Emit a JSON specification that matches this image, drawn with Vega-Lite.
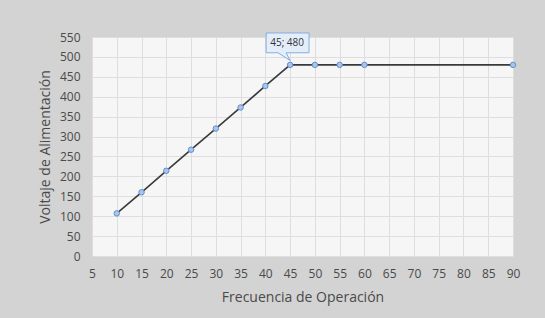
{
  "$schema": "https://vega.github.io/schema/vega-lite/v6.json",
  "width": 421,
  "height": 219,
  "autosize": {"type": "none"},
  "padding": {"left": 92, "top": 37, "right": 32, "bottom": 62},
  "background": "#d3d3d3",
  "config": {
    "view": {"fill": "#f6f6f6", "stroke": null},
    "font": "Open Sans",
    "axis": {
      "labelFont": "Open Sans",
      "titleFont": "Open Sans",
      "labelColor": "#4a4a4a",
      "titleColor": "#4a4a4a",
      "labelFontSize": 12,
      "titleFontSize": 14,
      "titleFontWeight": "normal",
      "gridColor": "#dedede",
      "gridWidth": 1,
      "domain": false,
      "ticks": false
    }
  },
  "data": {
    "values": [
      {"f": 10, "v": 107},
      {"f": 15, "v": 160},
      {"f": 20, "v": 214},
      {"f": 25, "v": 267},
      {"f": 30, "v": 320},
      {"f": 35, "v": 373},
      {"f": 40, "v": 427},
      {"f": 45, "v": 480, "label": "45; 480"},
      {"f": 50, "v": 480},
      {"f": 55, "v": 480},
      {"f": 60, "v": 480},
      {"f": 90, "v": 480}
    ]
  },
  "encoding": {
    "x": {
      "field": "f",
      "type": "quantitative",
      "scale": {"domain": [5, 90], "nice": false, "zero": false},
      "axis": {
        "title": "Frecuencia de Operación",
        "values": [5, 10, 15, 20, 25, 30, 35, 40, 45, 50, 55, 60, 65, 70, 75, 80, 85, 90],
        "labelPadding": 12,
        "titlePadding": 11,
        "labelFlush": false
      }
    },
    "y": {
      "field": "v",
      "type": "quantitative",
      "scale": {"domain": [0, 550], "nice": false},
      "axis": {
        "title": "Voltaje de Alimentación",
        "values": [0, 50, 100, 150, 200, 250, 300, 350, 400, 450, 500, 550],
        "labelPadding": 12,
        "titlePadding": 7,
        "labelFlush": false
      }
    }
  },
  "layer": [
    {
      "mark": {"type": "line", "color": "#3a3a3a", "strokeWidth": 1.6}
    },
    {
      "mark": {"type": "point", "filled": true, "fill": "#a9c5ea", "stroke": "#5f8fd0", "strokeWidth": 1, "size": 30, "opacity": 1}
    },
    {
      "transform": [{"filter": "datum.label != null"}],
      "mark": {
        "type": "point",
        "shape": "M-1.09,-1.45L0.86,-1.45L0.86,-0.55L-0.18,-0.55L0,-0.2L-0.55,-0.55L-1.09,-0.55Z",
        "size": 1936,
        "filled": true,
        "fill": "#e4eefb",
        "stroke": "#86acdf",
        "strokeWidth": 1,
        "opacity": 1
      }
    },
    {
      "transform": [{"filter": "datum.label != null"}],
      "mark": {"type": "text", "dx": -3, "dy": -22, "fontSize": 10, "font": "Open Sans", "color": "#333333"},
      "encoding": {"text": {"field": "label"}}
    }
  ]
}
